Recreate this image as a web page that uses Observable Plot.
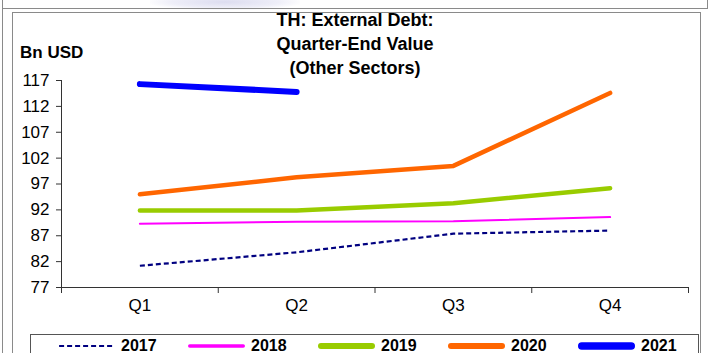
<!DOCTYPE html>
<html><head><meta charset="utf-8">
<script src="https://cdn.jsdelivr.net/npm/d3@7"></script>
<script src="https://cdn.jsdelivr.net/npm/@observablehq/plot@0.6"></script>
<style>
body{margin:0;background:#fff;font-family:"Liberation Sans",Arial,sans-serif;}
#wrap{position:relative;width:712px;height:353px;overflow:hidden;background:#fff;}
.ln{position:absolute;background:#8a8a8a;}
#chart{position:absolute;left:0;top:0;}
#title{position:absolute;left:205px;width:300px;top:8px;text-align:center;font-weight:bold;font-size:18px;line-height:24px;color:#000;}
#unit{position:absolute;left:20px;top:43px;font-weight:bold;font-size:17px;color:#000;}
#legend{position:absolute;left:30px;top:334px;width:669px;height:30px;border:1px solid #555;box-sizing:border-box;}
.item{position:absolute;top:336px;height:20px;display:flex;align-items:center;font-weight:bold;font-size:16px;color:#000;}
.item svg{margin-right:6px;}
#smudge{position:absolute;left:150px;top:-6px;width:150px;height:16px;background:radial-gradient(ellipse at center,#dcdcf0 0%,#eeeef8 50%,rgba(255,255,255,0) 75%);}
</style></head><body>
<div id="wrap">
  <div id="smudge"></div>
  <div class="ln" style="left:2px;top:0;width:1px;height:353px"></div>
  <div class="ln" style="left:2px;top:8px;width:706px;height:1px"></div>
  <div class="ln" style="left:707px;top:0;width:1px;height:9px"></div>
  <div class="ln" style="left:12px;top:12px;width:1px;height:341px"></div>
  <div class="ln" style="left:12px;top:12px;width:689px;height:1px"></div>
  <div class="ln" style="left:700px;top:12px;width:1px;height:341px"></div>
  <div id="chart"></div>
  <div id="title">TH: External Debt:<br>Quarter-End Value<br>(Other Sectors)</div>
  <div id="unit">Bn USD</div>
  <div id="legend"></div>
</div>
<script>
// ---- data ----
const quarters = ["Q1", "Q2", "Q3", "Q4"];
const years = ["2017", "2018", "2019", "2020", "2021"];
const v2017 = [81.2, 83.8, 87.4, 88.0];
const v2018 = [89.3, 89.7, 89.8, 90.6];
const v2019 = [91.9, 91.9, 93.3, 96.2];
const v2020 = [95.0, 98.3, 100.5, 114.6];
const v2021 = [116.3, 114.8];
const yTicks = [77, 82, 87, 92, 97, 102, 107, 112, 117];

// ---- styles ----
const seriesStyle = {
  "2017": {stroke: "#000080", width: 2.2, dash: "5,3"},
  "2018": {stroke: "#ff00ff", width: 2, dash: null},
  "2019": {stroke: "#99cc00", width: 4.5, dash: null},
  "2020": {stroke: "#ff6600", width: 4.5, dash: null},
  "2021": {stroke: "#0000ff", width: 6, dash: null}
};

const series = [v2017, v2018, v2019, v2020, v2021];
const rows = [];
series.forEach((vals, s) => vals.forEach((v, i) => rows.push({year: years[s], q: i + 1, value: v})));
const xDomain = [0.5, quarters.length + 0.5];
const boundaries = d3.range(quarters.length + 1).map(i => i + 0.5);
const yDomain = [d3.min(yTicks), d3.max(yTicks)];

const chart = Plot.plot({
  width: 712,
  height: 320,
  marginLeft: 61,
  marginRight: 24,
  marginTop: 80,
  marginBottom: 33,
  style: {fontSize: "17px", fontFamily: "'Liberation Sans', Arial, sans-serif", color: "#000", background: "transparent"},
  x: {type: "linear", domain: xDomain},
  y: {domain: yDomain},
  marks: [
    Plot.axisY({ticks: yTicks, tickSize: 5, tickPadding: 7, label: null, stroke: "#333", fill: "#000"}),
    Plot.axisX({ticks: boundaries, tickSize: 6, tickFormat: () => "", label: null, stroke: "#333"}),
    Plot.axisX({ticks: d3.range(1, quarters.length + 1), tickSize: 0, tickPadding: 11, tickFormat: d => quarters[d - 1], label: null, fill: "#000"}),
    Plot.ruleX([xDomain[0]], {stroke: "#333"}),
    Plot.ruleY([yDomain[0]], {stroke: "#333"}),
    ...years.map(y => Plot.line(rows.filter(r => r.year === y), {
      x: "q", y: "value",
      stroke: seriesStyle[y].stroke,
      strokeWidth: seriesStyle[y].width,
      strokeDasharray: seriesStyle[y].dash,
      strokeLinecap: seriesStyle[y].dash ? "butt" : "round",
      strokeLinejoin: "round"
    }))
  ]
});
document.getElementById("chart").appendChild(chart);

// ---- legend ----
const wrap = document.getElementById("wrap");
years.forEach((y, i) => {
  const st = seriesStyle[y];
  const div = document.createElement("div");
  div.className = "item";
  div.style.left = (58 + i * 130) + "px";
  const w = 57;
  const lw = st.dash ? st.width : st.width + 1.5;
  div.innerHTML = `<svg width="${w}" height="10"><line x1="${lw/2}" x2="${w - lw/2}" y1="5" y2="5" stroke="${st.stroke}" stroke-width="${lw}" ${st.dash ? `stroke-dasharray="${st.dash}"` : 'stroke-linecap="round"'}/></svg><span>${y}</span>`;
  wrap.appendChild(div);
});
</script>
</body></html>
